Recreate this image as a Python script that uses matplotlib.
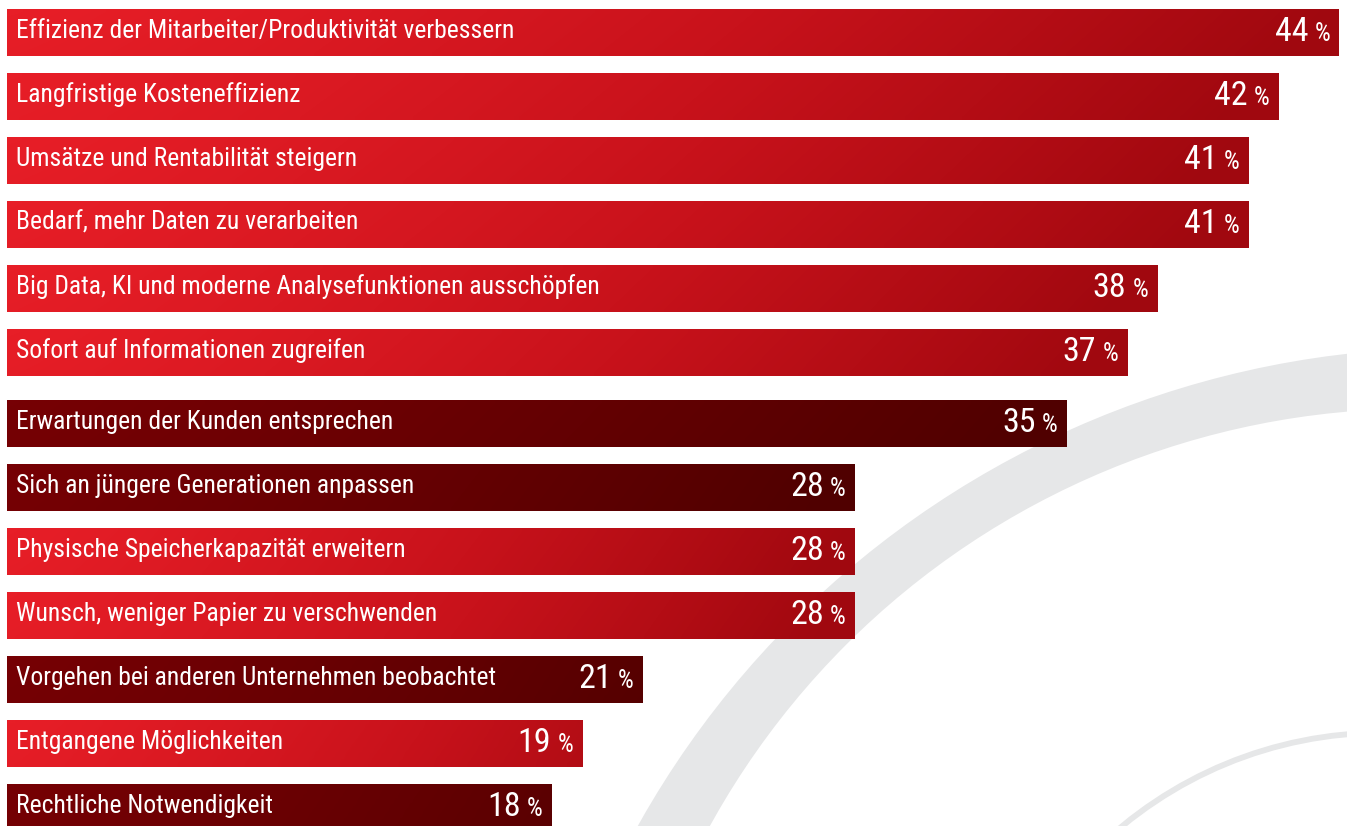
import numpy as np
import matplotlib
matplotlib.use("Agg")
import matplotlib.pyplot as plt
from matplotlib import font_manager as fm
from matplotlib.transforms import offset_copy
from matplotlib.colors import LinearSegmentedColormap
from matplotlib.patches import Circle

# ── data ──────────────────────────────────────────────────────────────────────
labels = [
    "Effizienz der Mitarbeiter/Produktivität verbessern",
    "Langfristige Kosteneffizienz",
    "Umsätze und Rentabilität steigern",
    "Bedarf, mehr Daten zu verarbeiten",
    "Big Data, KI und moderne Analysefunktionen ausschöpfen",
    "Sofort auf Informationen zugreifen",
    "Erwartungen der Kunden entsprechen",
    "Sich an jüngere Generationen anpassen",
    "Physische Speicherkapazität erweitern",
    "Wunsch, weniger Papier zu verschwenden",
    "Vorgehen bei anderen Unternehmen beobachtet",
    "Entgangene Möglichkeiten",
    "Rechtliche Notwendigkeit",
]
values = [44, 42, 41, 41, 38, 37, 35, 28, 28, 28, 21, 19, 18]
is_dark = [False, False, False, False, False, False,
           True, True, False, False, True, False, True]


def pick_font(names):
    for n in names:
        try:
            fm.findfont(fm.FontProperties(family=n), fallback_to_default=False)
            return n
        except Exception:
            pass
    return "DejaVu Sans"


FONT = pick_font(["Liberation Sans Narrow", "Roboto Condensed", "Open Sans Condensed",
                  "Liberation Sans", "Roboto"])

W, H, DPI = 1347, 826, 100
PX_PER_UNIT = 1332 / 44          # bar scale
PITCH = 64.0                     # px between bars
fig = plt.figure(figsize=(W / DPI, H / DPI), dpi=DPI)

# ── background arcs (pixel coords) ────────────────────────────────────────────
bg = fig.add_axes([0, 0, 1, 1])
bg.set_xlim(0, W); bg.set_ylim(H, 0); bg.axis("off")


def fit_circle(pts):
    p = np.asarray(pts, float)
    A = np.c_[2 * p[:, 0], 2 * p[:, 1], np.ones(len(p))]
    b = (p ** 2).sum(1)
    cx, cy, c = np.linalg.lstsq(A, b, rcond=None)[0]
    return (cx, cy), np.sqrt(c + cx ** 2 + cy ** 2)


GREY = "#E6E7E8"
outer = fit_circle([(637, 826), (720, 700), (857, 570), (1040, 440), (1150, 397), (1347, 355)])
inner = fit_circle([(712, 826), (792, 700), (930, 570), (1050, 500), (1237, 430), (1347, 410)])
thin = fit_circle([(1127, 823), (1183, 782), (1250, 757), (1300, 742), (1347, 733)])
bg.add_patch(Circle(*outer, color=GREY, lw=0))
bg.add_patch(Circle(*inner, color="white", lw=0))
bg.add_patch(Circle(*thin, fill=False, ec=GREY, lw=4.2))

# ── bars ──────────────────────────────────────────────────────────────────────
ax = fig.add_axes([0, 0, 1, 1])
ax.patch.set_alpha(0)
ax.axis("off")

idx = np.arange(len(values))
ypos = idx + (idx >= 6) * 7 / PITCH
bh = 46.7 / PITCH
xlim = (-7 / PX_PER_UNIT, (W - 7) / PX_PER_UNIT)
ylim = ((H - 32.35) / PITCH, -32.35 / PITCH)

red_cm = LinearSegmentedColormap.from_list("r", ["#E71E27", "#C8121B", "#A0080F"])
dark_cm = LinearSegmentedColormap.from_list("d", ["#760004", "#500000"])

bars = ax.barh(ypos, values, height=bh, color="none", lw=0)
u = np.linspace(0, 1, 256)
vv = np.linspace(0, 1, 8)
for bar, v, d, y in zip(bars, values, is_dark, ypos):
    k = min(1.0, v / 26)
    grad = np.clip((u[None, :] ** 1.2) * k + 0.04 * vv[:, None], 0, 1)
    im = ax.imshow(grad, cmap=dark_cm if d else red_cm, vmin=0, vmax=1, aspect="auto",
                   extent=(0, v, y + bh / 2, y - bh / 2), interpolation="bilinear")
    im.set_clip_path(bar)
ax.set_xlim(*xlim)
ax.set_ylim(*ylim)

# ── texts ─────────────────────────────────────────────────────────────────────
lab_tr = offset_copy(ax.transData, fig=fig, x=9, y=-5.3, units="dots")
num_tr = offset_copy(ax.transData, fig=fig, x=-31, y=-8.5, units="dots")
pct_tr = offset_copy(ax.transData, fig=fig, x=-9, y=-8.5, units="dots")

lab_txt = [ax.text(0, y, s, transform=lab_tr, ha="left", va="baseline", color="white",
                   fontsize=16, family=FONT) for s, y in zip(labels, ypos)]
fig.canvas.draw()
w0 = lab_txt[0].get_window_extent().width
fs = 16 * 499 / w0
for t in lab_txt:
    t.set_fontsize(fs)

for v, y in zip(values, ypos):
    ax.text(v, y, f"{v}", transform=num_tr, ha="right", va="baseline", color="white",
            fontsize=fs * 1.33, family=FONT)
    ax.text(v, y, "%", transform=pct_tr, ha="right", va="baseline", color="white",
            fontsize=fs * 0.98, family=FONT)

plt.savefig("out.png", dpi=DPI, facecolor="white")
